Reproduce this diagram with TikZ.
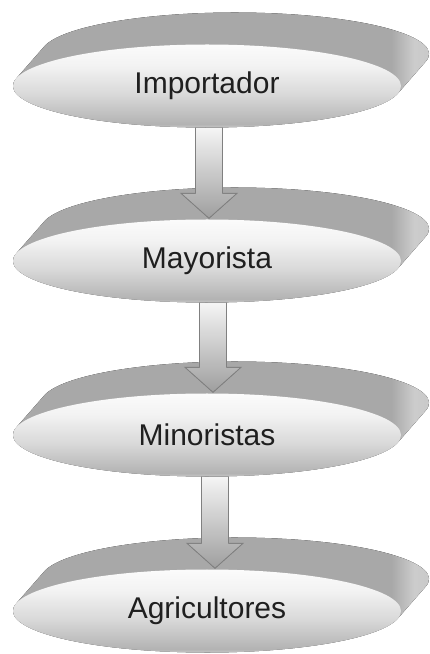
\documentclass[tikz,border=0pt]{standalone}
\usepackage{fontspec}
\setmainfont{Liberation Sans}
\usetikzlibrary{shapes.geometric,calc}
\definecolor{bandL}{gray}{0.68}
\definecolor{bandA}{gray}{0.66}
\definecolor{bandB}{gray}{0.80}
\definecolor{bandC}{gray}{0.78}
\definecolor{faceR}{gray}{0.78}
\definecolor{faceB}{gray}{0.70}
\definecolor{faceM}{gray}{0.85}
\definecolor{faceU}{gray}{0.95}
\definecolor{faceT}{gray}{0.985}
\definecolor{arT}{gray}{0.96}
\definecolor{arB}{gray}{0.62}
\definecolor{arLine}{gray}{0.50}
\pgfdeclarehorizontalshading{bandshade}{100bp}{color(0bp)=(bandL); color(25bp)=(bandL); color(30bp)=(bandA); color(69bp)=(bandA); color(71.5bp)=(bandB); color(75bp)=(bandC); color(100bp)=(bandC)}
\pgfdeclareverticalshading{faceshade}{100bp}{color(0bp)=(faceR); color(25bp)=(faceR); color(27bp)=(faceB); color(45bp)=(faceM); color(62bp)=(faceU); color(75bp)=(faceT); color(100bp)=(faceT)}
\pgfdeclareverticalshading{arrowshade}{100bp}{color(0bp)=(arB); color(25bp)=(arB); color(75bp)=(arT); color(100bp)=(arT)}
\newcommand\diskband[1]{%
  \fill[shading=bandshade] ($(#1)+(169.4:194pt and 41.5pt)$) -- ++(28pt,32pt)
    arc[start angle=169.4, end angle=-10.6, x radius=194pt, y radius=41.5pt]
    -- ++(-28pt,-32pt)
    arc[start angle=-10.6, end angle=-190.6, x radius=194pt, y radius=41.5pt] -- cycle;}
\newcommand\flowarrow[3]{%
  \fill[shading=arrowshade] ($(#1.south)+(#3-13.5,0)$) -- ($(#2.north)+(#3-13.5,26)$)
    -- ($(#2.north)+(#3-28,26)$) -- ($(#2.north)+(#3,1)$) -- ($(#2.north)+(#3+28,26)$)
    -- ($(#2.north)+(#3+13.5,26)$) -- ($(#1.south)+(#3+13.5,0)$) -- cycle;
  \draw[arLine, line width=0.8pt, line join=miter] ($(#1.south)+(#3-13.5,0)$) -- ($(#2.north)+(#3-13.5,26)$)
    -- ($(#2.north)+(#3-28,26)$) -- ($(#2.north)+(#3,1)$) -- ($(#2.north)+(#3+28,26)$)
    -- ($(#2.north)+(#3+13.5,26)$) -- ($(#1.south)+(#3+13.5,0)$);}
\begin{document}
\begin{tikzpicture}[x=1pt,y=1pt,
  disk/.style={ellipse, minimum width=388pt, minimum height=83pt, inner sep=0pt,
    shading=faceshade, text=black!88, font=\fontsize{30}{36}\selectfont}]
\useasboundingbox (0,0) rectangle (429,654);
\coordinate (p1) at (207,568);
\coordinate (p2) at (207,393);
\coordinate (p3) at (207,219);
\coordinate (p4) at (207,43);
\diskband{p1}
\node[disk] (imp) at (p1) {Importador};
\diskband{p2}
\node[disk] (may) at (p2) {Mayorista};
\diskband{p3}
\node[disk] (mino) at (p3) {Minoristas};
\diskband{p4}
\node[disk] (agr) at (p4) {Agricultores};
\flowarrow{imp}{may}{2}
\flowarrow{may}{mino}{6}
\flowarrow{mino}{agr}{8}
\end{tikzpicture}
\end{document}
